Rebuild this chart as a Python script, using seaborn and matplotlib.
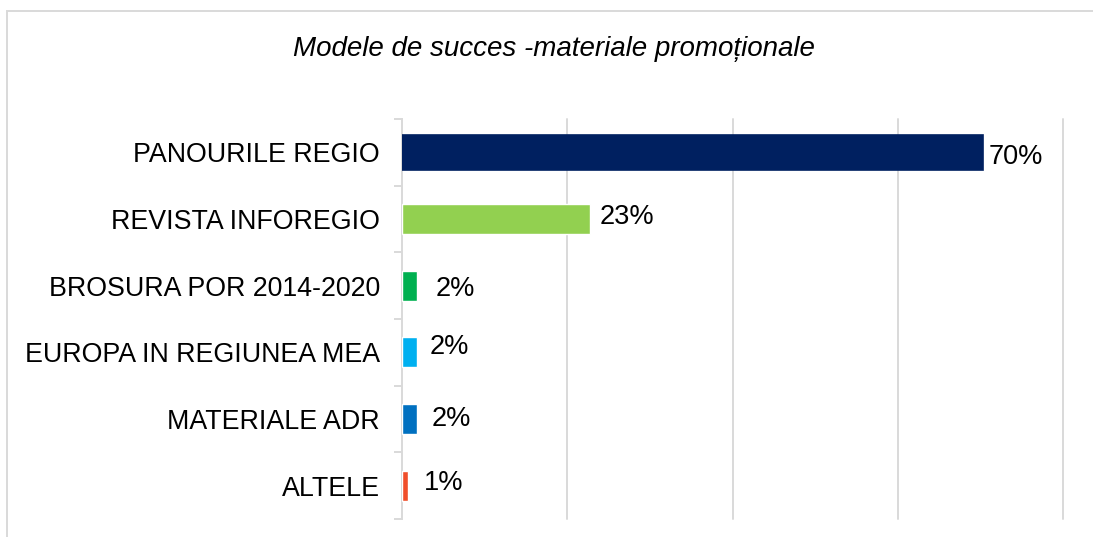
import matplotlib
matplotlib.use("Agg")
import matplotlib.pyplot as plt
import seaborn as sns
import pandas as pd
from matplotlib.patches import Rectangle
from matplotlib.ticker import FixedLocator

# ---- data ----
categories = ["PANOURILE REGIO", "REVISTA INFOREGIO", "BROSURA POR 2014-2020",
              "EUROPA IN REGIUNEA MEA", "MATERIALE ADR", "ALTELE"]
values = [0.70, 0.227, 0.018, 0.018, 0.018, 0.007]
value_labels = ["70%", "23%", "2%", "2%", "2%", "1%"]
title = "Modele de succes -materiale promoționale"

# ---- style ----
colors = ["#002060", "#92D050", "#00B050", "#00B0F0", "#0070C0", "#F04E2A"]
label_nudges_px = [(8, -5), (10, 2), (19, -3), (13, 5), (15, 0), (16, 3)]
grid_color = "#d9d9d9"

sns.set_theme(style="white")
plt.rcParams["font.family"] = ["Liberation Sans", "DejaVu Sans"]

W, H = 1093, 537
fig = plt.figure(figsize=(W / 100, H / 100), dpi=100)
ax = fig.add_axes([402 / W, 1 - 519 / H, (1063 - 402) / W, (519 - 119) / H])

df = pd.DataFrame({"cat": categories, "val": values})
sns.barplot(data=df, x="val", y="cat", hue="cat", palette=colors, orient="h",
            width=0.45, legend=False, ax=ax, saturation=1, zorder=3)

# first bar slightly thicker (as in reference)
p0 = ax.patches[0]
p0.set_edgecolor(colors[0])
p0.set_linewidth(4.8)
p0.set_joinstyle("miter")

ax.set_xlim(0, 0.8)
ax.set_ylim(len(categories) - 0.5, -0.5)
ax.set_xlabel("")
ax.set_ylabel("")

ax.xaxis.set_major_locator(FixedLocator([0.2, 0.4, 0.6, 0.8]))
ax.tick_params(axis="x", length=0, labelbottom=False)
ax.grid(axis="x", color=grid_color, linewidth=1.4, zorder=0)
for gl in ax.get_xgridlines():
    gl.set_clip_on(False)

ax.yaxis.set_minor_locator(FixedLocator([i - 0.5 for i in range(len(categories) + 1)]))
ax.tick_params(axis="y", which="major", length=0, pad=15.8, labelsize=19.3, labelcolor="#000000")
ax.tick_params(axis="y", which="minor", length=5.8, width=1.4, color=grid_color, left=True)

for s in ["top", "right", "bottom"]:
    ax.spines[s].set_visible(False)
ax.spines["left"].set_color(grid_color)
ax.spines["left"].set_linewidth(1.4)

for i, (v, lab) in enumerate(zip(values, value_labels)):
    dx, dy = label_nudges_px[i]
    ax.annotate(lab, xy=(v, i), xytext=(dx * 0.72, dy * 0.72), textcoords="offset points",
                ha="left", va="center", fontsize=19.5, color="#000000")

fig.text(554 / W, 1 - 49 / H, title, ha="center", va="center", fontsize=20,
         style="italic", color="#000000")

fig.patches.append(Rectangle((6.5 / W, -0.2), 1.2, 1.2 - 10.5 / H, transform=fig.transFigure,
                             fill=False, edgecolor=grid_color, linewidth=1.4))

fig.savefig("out.png", dpi=100, facecolor="white")
